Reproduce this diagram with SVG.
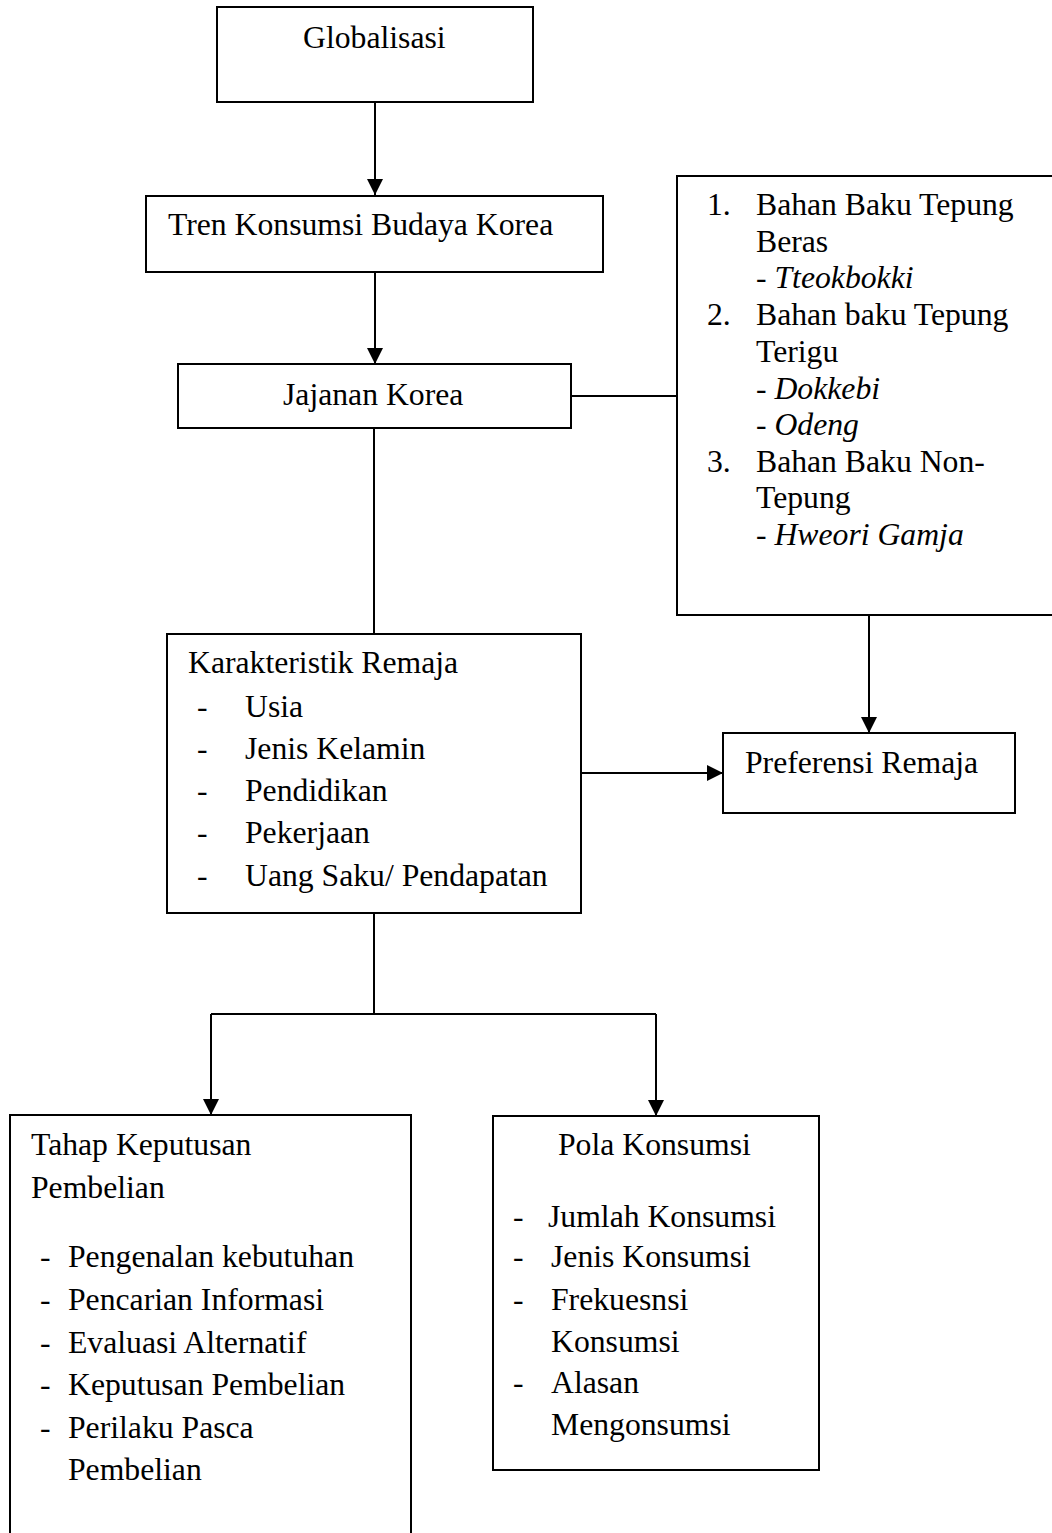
<svg xmlns="http://www.w3.org/2000/svg" width="1052" height="1533" viewBox="0 0 1052 1533">
<defs>
<marker id="ah" markerUnits="userSpaceOnUse" markerWidth="16" markerHeight="16" viewBox="0 0 16 16" refX="16" refY="8" orient="auto">
<path d="M0,0 L16,8 L0,16 Z" fill="#000"/>
</marker>
<style>
.box{fill:#fff;stroke:#000;stroke-width:2}
.t{font-family:"Liberation Serif","Times New Roman",serif;font-size:31.7px;fill:#000}
.i{font-style:italic}
.c{fill:none;stroke:#000;stroke-width:2}
</style>
</defs>
<rect width="1052" height="1533" fill="#fff"/>

<g id="connectors">
<line class="c" x1="375" y1="102" x2="375" y2="195" marker-end="url(#ah)"/>
<line class="c" x1="375" y1="272" x2="375" y2="364" marker-end="url(#ah)"/>
<line class="c" x1="374" y1="428" x2="374" y2="634"/>
<line class="c" x1="571" y1="396" x2="677" y2="396"/>
<line class="c" x1="869" y1="615" x2="869" y2="733" marker-end="url(#ah)"/>
<line class="c" x1="581" y1="773" x2="723" y2="773" marker-end="url(#ah)"/>
<polyline class="c" points="374,913 374,1014"/>
<polyline class="c" points="211,1014 656,1014"/>
<line class="c" x1="211" y1="1014" x2="211" y2="1115" marker-end="url(#ah)"/>
<line class="c" x1="656" y1="1014" x2="656" y2="1116" marker-end="url(#ah)"/>
</g>

<g id="globalisasi">
<rect class="box" x="217" y="7" width="316" height="95"/>
<text class="t" x="303" y="48">Globalisasi</text>
</g>

<g id="tren">
<rect class="box" x="146" y="196" width="457" height="76"/>
<text class="t" x="168" y="235">Tren Konsumsi Budaya Korea</text>
</g>

<g id="jajanan">
<rect class="box" x="178" y="364" width="393" height="64"/>
<text class="t" x="283" y="405">Jajanan Korea</text>
</g>

<g id="bahan">
<rect class="box" x="677" y="176" width="400" height="439"/>
<text class="t" x="707" y="215">1.</text>
<text class="t" x="756" y="215">Bahan Baku Tepung</text>
<text class="t" x="756" y="252">Beras</text>
<text class="t" x="756" y="288">- <tspan class="i">Tteokbokki</tspan></text>
<text class="t" x="707" y="325">2.</text>
<text class="t" x="756" y="325">Bahan baku Tepung</text>
<text class="t" x="756" y="362">Terigu</text>
<text class="t" x="756" y="399">- <tspan class="i">Dokkebi</tspan></text>
<text class="t" x="756" y="435">- <tspan class="i">Odeng</tspan></text>
<text class="t" x="707" y="472">3.</text>
<text class="t" x="756" y="472">Bahan Baku Non-</text>
<text class="t" x="756" y="508">Tepung</text>
<text class="t" x="756" y="545">- <tspan class="i">Hweori Gamja</tspan></text>
</g>

<g id="karakteristik">
<rect class="box" x="167" y="634" width="414" height="279"/>
<text class="t" x="188" y="673">Karakteristik Remaja</text>
<text class="t" x="197" y="717">-</text>
<text class="t" x="245" y="717">Usia</text>
<text class="t" x="197" y="759">-</text>
<text class="t" x="245" y="759">Jenis Kelamin</text>
<text class="t" x="197" y="801">-</text>
<text class="t" x="245" y="801">Pendidikan</text>
<text class="t" x="197" y="843">-</text>
<text class="t" x="245" y="843">Pekerjaan</text>
<text class="t" x="197" y="886">-</text>
<text class="t" x="245" y="886">Uang Saku/ Pendapatan</text>
</g>

<g id="preferensi">
<rect class="box" x="723" y="733" width="292" height="80"/>
<text class="t" x="745" y="773">Preferensi Remaja</text>
</g>

<g id="tahap">
<rect class="box" x="10" y="1115" width="401" height="440"/>
<text class="t" x="31" y="1155">Tahap Keputusan</text>
<text class="t" x="31" y="1198">Pembelian</text>
<text class="t" x="40" y="1267">-</text>
<text class="t" x="68" y="1267">Pengenalan kebutuhan</text>
<text class="t" x="40" y="1310">-</text>
<text class="t" x="68" y="1310">Pencarian Informasi</text>
<text class="t" x="40" y="1353">-</text>
<text class="t" x="68" y="1353">Evaluasi Alternatif</text>
<text class="t" x="40" y="1395">-</text>
<text class="t" x="68" y="1395">Keputusan Pembelian</text>
<text class="t" x="40" y="1438">-</text>
<text class="t" x="68" y="1438">Perilaku Pasca</text>
<text class="t" x="68" y="1480">Pembelian</text>
</g>

<g id="pola">
<rect class="box" x="493" y="1116" width="326" height="354"/>
<text class="t" x="558" y="1155">Pola Konsumsi</text>
<text class="t" x="513" y="1227">-</text>
<text class="t" x="548" y="1227">Jumlah Konsumsi</text>
<text class="t" x="513" y="1267">-</text>
<text class="t" x="551" y="1267">Jenis Konsumsi</text>
<text class="t" x="513" y="1310">-</text>
<text class="t" x="551" y="1310">Frekuesnsi</text>
<text class="t" x="551" y="1352">Konsumsi</text>
<text class="t" x="513" y="1393">-</text>
<text class="t" x="551" y="1393">Alasan</text>
<text class="t" x="551" y="1435">Mengonsumsi</text>
</g>
</svg>
